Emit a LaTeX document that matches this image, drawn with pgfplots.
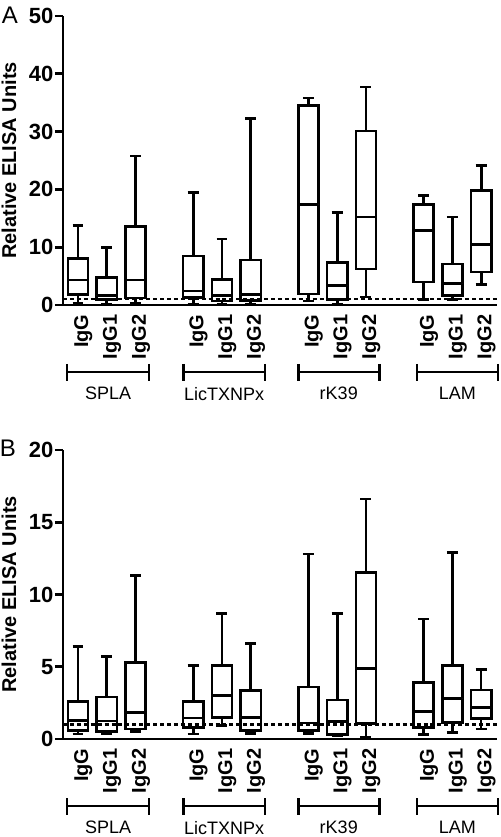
\documentclass[border=0pt]{standalone}
\usepackage{fontspec}
\setmainfont{Liberation Sans}
\usepackage{pgfplots}
\pgfplotsset{compat=1.18}
\usepgfplotslibrary{statistics}
\newcommand{\bx}[6]{\addplot[black, line width=2pt, fill=white, boxplot prepared={draw position=#1, lower whisker=#2, lower quartile=#3, median=#4, upper quartile=#5, upper whisker=#6}] coordinates {};}
\newcommand{\grp}[3]{%
  \draw[line width=2pt] ([yshift=-50.25pt]axis cs:#1,0) -- ([yshift=-50.25pt]axis cs:#2,0);
  \draw[line width=2pt] ([yshift=-44.25pt]axis cs:#1,0) -- ([yshift=-57pt]axis cs:#1,0);
  \draw[line width=2pt] ([yshift=-44.25pt]axis cs:#2,0) -- ([yshift=-57pt]axis cs:#2,0);
  \node[font=\fontsize{13.5}{14}\selectfont, anchor=center, inner sep=0pt] at ([yshift=-66.5pt]axis cs:{(#1+#2)/2},0) {#3};}
\pgfplotsset{
  panel/.style={
    scale only axis, width=325.5pt, height=216.75pt,
    xmin=0.48, xmax=15.55, ymin=0,
    axis lines*=left,
    axis line style={line width=2pt},
    clip=false,
    xtick={1,2,3,5,6,7,9,10,11,13,14,15},
    xticklabels={IgG,IgG1,IgG2,IgG,IgG1,IgG2,IgG,IgG1,IgG2,IgG,IgG1,IgG2},
    x tick style={draw=none},
    xticklabel style={rotate=90, anchor=east, font=\bfseries\fontsize{15}{15}\selectfont, inner sep=1pt, yshift=-4pt},
    y tick style={line width=2pt, black},
    tick align=outside, major tick length=6pt,
    yticklabel style={font=\bfseries\fontsize{16.5}{17}\selectfont, inner sep=1pt},
    /pgf/number format/assume math mode=true,
    minor tick num=0,
    ylabel={Relative ELISA Units},
    every axis y label/.style={at={(axis description cs:-0.1244,0.5)}, rotate=90, anchor=center, font=\bfseries\fontsize{15}{16}\selectfont},
    boxplot/draw direction=y,
    boxplot/box extend=0.7,
    boxplot/whisker extend=0.38,
  }
}
\begin{document}
\begin{tikzpicture}
\begin{axis}[panel, at={(0,0)}, anchor=south west, ymax=50, ytick={0,10,20,30,40,50}]
\bx{1}{0.3}{1.8}{4.3}{8.1}{13.8}
\bx{2}{0.2}{1.0}{1.7}{4.7}{10.0}
\bx{3}{0.3}{1.2}{4.3}{13.6}{25.8}
\bx{5}{0.2}{1.3}{2.4}{8.5}{19.5}
\bx{6}{0.2}{0.7}{1.7}{4.4}{11.4}
\bx{7}{0.2}{0.8}{1.8}{7.8}{32.3}
\bx{9}{0.7}{1.9}{17.4}{34.5}{35.8}
\bx{10}{0.2}{0.9}{3.4}{7.4}{16.0}
\bx{11}{1.4}{6.2}{15.2}{30.1}{37.7}
\bx{13}{1.0}{4.0}{12.9}{17.4}{18.9}
\bx{14}{1.0}{1.6}{3.75}{7.1}{15.2}
\bx{15}{3.6}{5.7}{10.5}{19.8}{24.1}
\addplot[black, line width=1.8pt, dash pattern=on 3pt off 2.2pt] coordinates {(0.48,1) (15.55,1)};
\grp{0.62}{3.47}{SPLA}
\grp{4.66}{7.49}{LicTXNPx}
\grp{8.65}{11.46}{rK39}
\grp{12.77}{15.58}{LAM}
\node[font=\fontsize{18}{19}\selectfont] at ([xshift=-39.75pt]axis cs:0.48,0) [yshift=217.5pt] {A};
\end{axis}
\begin{axis}[panel, at={(0,-325.5pt)}, anchor=south west, ymax=20, ytick={0,5,10,15,20}]
\bx{1}{0.35}{0.6}{1.3}{2.6}{6.4}
\bx{2}{0.4}{0.5}{1.25}{2.9}{5.7}
\bx{3}{0.5}{0.7}{1.85}{5.3}{11.3}
\bx{5}{0.35}{0.8}{1.45}{2.6}{5.1}
\bx{6}{0.95}{1.5}{3.0}{5.1}{8.7}
\bx{7}{0.4}{0.6}{1.5}{3.35}{6.6}
\bx{9}{0.4}{0.6}{1.1}{3.6}{12.8}
\bx{10}{0.25}{0.3}{1.2}{2.7}{8.7}
\bx{11}{0.1}{1.05}{4.9}{11.5}{16.6}
\bx{13}{0.3}{0.8}{1.9}{3.9}{8.3}
\bx{14}{0.45}{1.15}{2.8}{5.1}{12.9}
\bx{15}{0.7}{1.4}{2.2}{3.4}{4.8}
\addplot[black, line width=1.8pt, dash pattern=on 3pt off 2.2pt] coordinates {(0.48,1) (15.55,1)};
\grp{0.62}{3.47}{SPLA}
\grp{4.66}{7.49}{LicTXNPx}
\grp{8.65}{11.46}{rK39}
\grp{12.77}{15.58}{LAM}
\node[font=\fontsize{18}{19}\selectfont] at ([xshift=-41.25pt]axis cs:0.48,0) [yshift=218.25pt] {B};
\end{axis}
\pgfresetboundingbox
\useasboundingbox (-47.25pt,-399pt) rectangle (327.75pt,228.75pt);
\end{tikzpicture}
\end{document}
